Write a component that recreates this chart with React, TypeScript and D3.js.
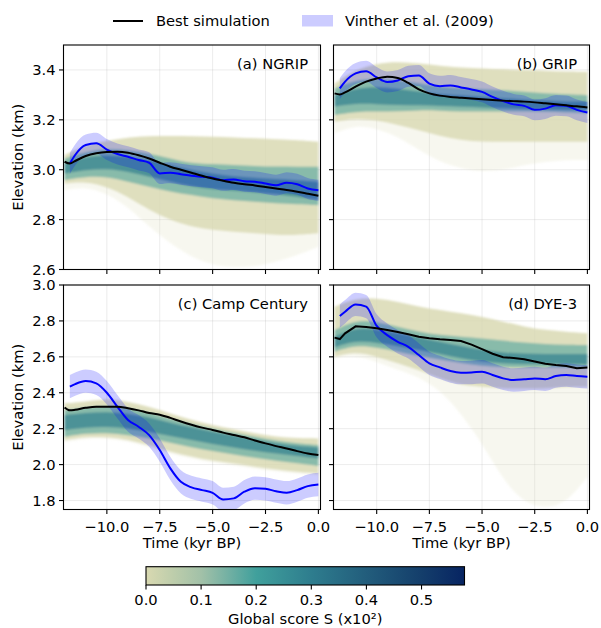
import React from 'react';
import * as d3 from 'd3';

// ---------- time axes (kyr BP) ----------
const T_ENS = [-12, -11, -10, -9, -8, -7, -6, -5, -4, -3, -2, -1, 0];
const T_BEST = [-12, -11.75, -11.5, -11, -10.5, -10, -9.5, -9, -8.5, -8, -7.5, -7, -6.5, -6, -5.5, -5, -4.5, -4, -3.5, -3, -2.5, -2, -1.5, -1, -0.5, 0];
const T_OBS = T_BEST.slice(1);

const X_TICKS = [-10, -7.5, -5, -2.5, 0];
const Y_TICKS_TOP = [2.6, 2.8, 3.0, 3.2, 3.4];
const Y_TICKS_BOTTOM = [1.8, 2.0, 2.2, 2.4, 2.6, 2.8, 3.0];
const CBAR_TICKS = [0, 0.1, 0.2, 0.3, 0.4, 0.5];
const CBAR_MAX = 0.578;

// ---------- (a) NGRIP ----------
const NGRIP_BEST = [3.032, 3.025, 3.035, 3.055, 3.066, 3.071, 3.072, 3.068, 3.058, 3.045, 3.028, 3.012, 3.0, 2.988, 2.976, 2.965, 2.956, 2.948, 2.942, 2.937, 2.931, 2.925, 2.919, 2.912, 2.904, 2.896];
const NGRIP_OBS = [3.025, 3.059, 3.099, 3.106, 3.081, 3.063, 3.052, 3.039, 3.028, 2.985, 2.988, 2.982, 2.976, 2.972, 2.968, 2.958, 2.961, 2.954, 2.952, 2.945, 2.938, 2.948, 2.942, 2.925, 2.918];
const NGRIP_FAINT_LO = [2.918, 2.932, 2.905, 2.851, 2.771, 2.704, 2.65, 2.617, 2.608, 2.611, 2.631, 2.657, 2.691];
const NGRIP_BEIGE_HI = [3.059, 3.099, 3.116, 3.13, 3.135, 3.135, 3.135, 3.132, 3.13, 3.126, 3.122, 3.119, 3.112];
const NGRIP_BEIGE_LO = [2.945, 2.952, 2.932, 2.892, 2.838, 2.798, 2.771, 2.758, 2.751, 2.745, 2.738, 2.738, 2.745];
const NGRIP_TEAL_HI = [3.045, 3.072, 3.085, 3.079, 3.065, 3.045, 3.025, 3.023, 3.019, 3.015, 3.012, 3.012, 3.012];
const NGRIP_TEAL_LO = [2.959, 2.972, 2.972, 2.952, 2.932, 2.912, 2.898, 2.885, 2.878, 2.871, 2.865, 2.862, 2.858];
const NGRIP_DARK_HI = [3.025, 3.052, 3.059, 3.052, 3.039, 3.019, 2.999, 2.985, 2.972, 2.968, 2.962, 2.958, 2.952];
const NGRIP_DARK_LO = [2.985, 2.999, 3.005, 2.992, 2.972, 2.952, 2.932, 2.921, 2.916, 2.909, 2.902, 2.892, 2.878];

// ---------- (b) GRIP ----------
const GRIP_BEST = [3.306, 3.302, 3.31, 3.333, 3.353, 3.366, 3.373, 3.368, 3.348, 3.322, 3.306, 3.297, 3.292, 3.289, 3.286, 3.283, 3.28, 3.277, 3.275, 3.273, 3.27, 3.266, 3.262, 3.258, 3.254, 3.249];
const GRIP_OBS = [3.326, 3.353, 3.386, 3.395, 3.37, 3.352, 3.358, 3.375, 3.378, 3.345, 3.335, 3.338, 3.33, 3.322, 3.312, 3.292, 3.275, 3.262, 3.256, 3.24, 3.245, 3.258, 3.256, 3.24, 3.229];
const GRIP_FAINT_LO = [3.146, 3.179, 3.166, 3.132, 3.079, 3.032, 3.005, 2.992, 2.998, 3.019, 3.032, 3.039, 3.039];
const GRIP_BEIGE_HI = [3.346, 3.4, 3.426, 3.433, 3.426, 3.416, 3.409, 3.406, 3.402, 3.4, 3.397, 3.393, 3.393];
const GRIP_BEIGE_LO = [3.192, 3.206, 3.199, 3.179, 3.159, 3.135, 3.119, 3.112, 3.112, 3.112, 3.112, 3.112, 3.112];
const GRIP_TEAL_HI = [3.326, 3.36, 3.366, 3.36, 3.346, 3.333, 3.326, 3.322, 3.319, 3.313, 3.306, 3.302, 3.299];
const GRIP_TEAL_LO = [3.219, 3.233, 3.233, 3.233, 3.239, 3.237, 3.233, 3.233, 3.233, 3.233, 3.233, 3.229, 3.226];
const GRIP_DARK_HI = [3.299, 3.326, 3.333, 3.326, 3.313, 3.303, 3.299, 3.293, 3.286, 3.282, 3.277, 3.273, 3.273];
const GRIP_DARK_LO = [3.253, 3.266, 3.263, 3.259, 3.259, 3.255, 3.253, 3.25, 3.246, 3.243, 3.242, 3.239, 3.239];

// ---------- (c) Camp Century ----------
const CC_BEST = [2.318, 2.302, 2.305, 2.316, 2.322, 2.322, 2.322, 2.314, 2.302, 2.287, 2.278, 2.26, 2.24, 2.222, 2.206, 2.193, 2.178, 2.165, 2.152, 2.134, 2.118, 2.103, 2.09, 2.075, 2.062, 2.053];
const CC_OBS = [2.434, 2.448, 2.465, 2.452, 2.4, 2.322, 2.248, 2.211, 2.164, 2.081, 1.979, 1.904, 1.873, 1.858, 1.843, 1.806, 1.812, 1.849, 1.869, 1.865, 1.852, 1.843, 1.858, 1.88, 1.889];
const CC_FAINT_LO = [2.125, 2.145, 2.145, 2.13, 2.098, 2.06, 2.033, 2.01, 1.995, 1.977, 1.962, 1.95, 1.94];
const CC_BEIGE_HI = [2.341, 2.35, 2.369, 2.35, 2.322, 2.285, 2.248, 2.22, 2.196, 2.174, 2.155, 2.146, 2.146];
const CC_BEIGE_LO = [2.136, 2.155, 2.155, 2.14, 2.109, 2.071, 2.044, 2.021, 2.007, 1.988, 1.973, 1.96, 1.951];
const CC_TEAL_HI = [2.304, 2.318, 2.331, 2.318, 2.289, 2.257, 2.226, 2.201, 2.177, 2.155, 2.133, 2.118, 2.109];
const CC_TEAL_LO = [2.155, 2.174, 2.177, 2.164, 2.146, 2.122, 2.096, 2.075, 2.057, 2.038, 2.021, 2.007, 1.992];
const CC_DARK_HI = [2.276, 2.289, 2.294, 2.285, 2.263, 2.233, 2.207, 2.183, 2.162, 2.14, 2.118, 2.103, 2.096];
const CC_DARK_LO = [2.192, 2.207, 2.211, 2.201, 2.183, 2.159, 2.137, 2.114, 2.096, 2.077, 2.062, 2.047, 2.034];

// ---------- (d) DYE-3 ----------
const DYE_BEST = [2.707, 2.699, 2.731, 2.77, 2.766, 2.759, 2.749, 2.738, 2.726, 2.712, 2.704, 2.698, 2.694, 2.688, 2.668, 2.643, 2.617, 2.598, 2.593, 2.586, 2.574, 2.561, 2.554, 2.549, 2.537, 2.54];
const DYE_OBS = [2.827, 2.851, 2.892, 2.88, 2.772, 2.721, 2.684, 2.656, 2.61, 2.564, 2.541, 2.521, 2.512, 2.513, 2.517, 2.499, 2.48, 2.471, 2.475, 2.48, 2.475, 2.493, 2.499, 2.493, 2.489];
const DYE_FAINT_LO = [2.591, 2.61, 2.573, 2.526, 2.489, 2.415, 2.285, 2.118, 1.914, 1.784, 1.756, 1.784, 1.932];
const DYE_BEIGE_HI = [2.879, 2.926, 2.926, 2.907, 2.879, 2.861, 2.842, 2.824, 2.796, 2.768, 2.749, 2.74, 2.731];
const DYE_BEIGE_LO = [2.601, 2.629, 2.601, 2.564, 2.526, 2.48, 2.443, 2.434, 2.424, 2.424, 2.424, 2.434, 2.434];
const DYE_TEAL_HI = [2.749, 2.805, 2.796, 2.768, 2.74, 2.721, 2.712, 2.703, 2.69, 2.679, 2.671, 2.666, 2.666];
const DYE_TEAL_LO = [2.629, 2.666, 2.653, 2.629, 2.604, 2.586, 2.564, 2.549, 2.541, 2.541, 2.541, 2.541, 2.541];
const DYE_DARK_HI = [2.712, 2.764, 2.753, 2.731, 2.708, 2.684, 2.66, 2.638, 2.623, 2.619, 2.616, 2.616, 2.616];
const DYE_DARK_LO = [2.653, 2.69, 2.679, 2.66, 2.638, 2.616, 2.591, 2.573, 2.564, 2.56, 2.56, 2.558, 2.558];

// Vinther et al. (2009) uncertainty half-widths (km)
const OBS_ERR = [0.042, 0.042, 0.065, 0.065];

// colormap stops (score -> colour)
const CMAP_POS = [0, 0.05, 0.1, 0.15, 0.2, 0.3, 0.4, 0.5, 0.578];
const CMAP_COL = ['#d9d9b1', '#bdcdab', '#a2c1a8', '#72b0a3', '#40a09c', '#2e7d8e', '#225d7c', '#143e6b', '#072462'];
const cmap = d3.scaleLinear<string>().domain(CMAP_POS).range(CMAP_COL).interpolate(d3.interpolateRgb);

const FONT = 'DejaVu Sans, Verdana, sans-serif';
const FS = 14.7;
const SPINE_W = 1.1;
const TICK_L = 4.5;
const LINE_W = 2;

type Panel = {
  id: string; label: string; x0: number; x1: number; y0: number; y1: number;
  yDomain: [number, number]; yTicks: number[]; showYLabels: boolean; showXLabels: boolean;
  best: number[]; obs: number[]; err: number;
  faintLo: number[]; beigeHi: number[]; beigeLo: number[]; tealHi: number[]; tealLo: number[]; darkHi: number[]; darkLo: number[];
  bestCurve: d3.CurveFactory;
};

const PANELS: Panel[] = [
  { id: 'a', label: '(a) NGRIP', x0: 63.5, x1: 320.5, y0: 45, y1: 269.5, yDomain: [2.6, 3.5], yTicks: Y_TICKS_TOP, showYLabels: true, showXLabels: false,
    best: NGRIP_BEST, obs: NGRIP_OBS, err: OBS_ERR[0], faintLo: NGRIP_FAINT_LO, beigeHi: NGRIP_BEIGE_HI, beigeLo: NGRIP_BEIGE_LO,
    tealHi: NGRIP_TEAL_HI, tealLo: NGRIP_TEAL_LO, darkHi: NGRIP_DARK_HI, darkLo: NGRIP_DARK_LO, bestCurve: d3.curveMonotoneX },
  { id: 'b', label: '(b) GRIP', x0: 333.5, x1: 589.5, y0: 45, y1: 269.5, yDomain: [2.6, 3.5], yTicks: Y_TICKS_TOP, showYLabels: false, showXLabels: false,
    best: GRIP_BEST, obs: GRIP_OBS, err: OBS_ERR[1], faintLo: GRIP_FAINT_LO, beigeHi: GRIP_BEIGE_HI, beigeLo: GRIP_BEIGE_LO,
    tealHi: GRIP_TEAL_HI, tealLo: GRIP_TEAL_LO, darkHi: GRIP_DARK_HI, darkLo: GRIP_DARK_LO, bestCurve: d3.curveMonotoneX },
  { id: 'c', label: '(c) Camp Century', x0: 63.5, x1: 320.5, y0: 285, y1: 509.5, yDomain: [1.75, 3.0], yTicks: Y_TICKS_BOTTOM, showYLabels: true, showXLabels: true,
    best: CC_BEST, obs: CC_OBS, err: OBS_ERR[2], faintLo: CC_FAINT_LO, beigeHi: CC_BEIGE_HI, beigeLo: CC_BEIGE_LO,
    tealHi: CC_TEAL_HI, tealLo: CC_TEAL_LO, darkHi: CC_DARK_HI, darkLo: CC_DARK_LO, bestCurve: d3.curveMonotoneX },
  { id: 'd', label: '(d) DYE-3', x0: 333.5, x1: 589.5, y0: 285, y1: 509.5, yDomain: [1.75, 3.0], yTicks: Y_TICKS_BOTTOM, showYLabels: false, showXLabels: true,
    best: DYE_BEST, obs: DYE_OBS, err: OBS_ERR[3], faintLo: DYE_FAINT_LO, beigeHi: DYE_BEIGE_HI, beigeLo: DYE_BEIGE_LO,
    tealHi: DYE_TEAL_HI, tealLo: DYE_TEAL_LO, darkHi: DYE_DARK_HI, darkLo: DYE_DARK_LO, bestCurve: d3.curveLinear },
];

const fmtX = (v: number) => d3.format('.1f')(v).replace('-', '\u2212');
const fmtY = (v: number) => d3.format('.1f')(v);

function PanelView({ p }: { p: Panel }) {
  const x = d3.scaleLinear().domain([-12.05, 0.1]).range([p.x0, p.x1]);
  const y = d3.scaleLinear().domain(p.yDomain).range([p.y1, p.y0]);
  const band = (T: number[], lo: number[], hi: number[], curve: d3.CurveFactory) =>
    d3.area<number>().x((t) => x(t)).y0((_, i) => y(lo[i])).y1((_, i) => y(hi[i])).curve(curve)(T) || '';
  const line = (T: number[], v: number[], curve: d3.CurveFactory) =>
    d3.line<number>().x((t) => x(t)).y((_, i) => y(v[i])).curve(curve)(T) || '';
  const obsLo = p.obs.map((v) => v - p.err);
  const obsHi = p.obs.map((v) => v + p.err);
  const clipId = `clip-${p.id}`;
  return (
    <g>
      <defs>
        <clipPath id={clipId}>
          <rect x={p.x0} y={p.y0} width={p.x1 - p.x0} height={p.y1 - p.y0} />
        </clipPath>
      </defs>
      {/* grid */}
      <g stroke="#b0b0b0" strokeOpacity={0.3} strokeWidth={0.8}>
        {X_TICKS.map((t) => <line key={'gx' + t} x1={x(t)} x2={x(t)} y1={p.y0} y2={p.y1} />)}
        {p.yTicks.map((v) => <line key={'gy' + v} x1={p.x0} x2={p.x1} y1={y(v)} y2={y(v)} />)}
      </g>
      <g clipPath={`url(#${clipId})`}>
        <g filter="url(#soft)">
          <path d={band(T_ENS, p.faintLo, p.beigeHi, d3.curveBasis)} fill={cmap(0)} fillOpacity={0.2} />
          <path d={band(T_ENS, p.beigeLo, p.beigeHi, d3.curveBasis)} fill={cmap(0)} fillOpacity={0.8} />
          <path d={band(T_ENS, p.tealLo, p.tealHi, d3.curveBasis)} fill={cmap(0.17)} fillOpacity={0.68} />
          <path d={band(T_ENS, p.darkLo, p.darkHi, d3.curveBasis)} fill={cmap(0.3)} fillOpacity={0.65} />
        </g>
        <path d={band(T_OBS, obsLo, obsHi, d3.curveMonotoneX)} fill="#0000ff" fillOpacity={0.2} />
        <path d={line(T_OBS, p.obs, d3.curveMonotoneX)} fill="none" stroke="#0000ff" strokeWidth={LINE_W} />
        <path d={line(T_BEST, p.best, p.bestCurve)} fill="none" stroke="#000" strokeWidth={LINE_W} />
      </g>
      {/* spines */}
      <rect x={p.x0} y={p.y0} width={p.x1 - p.x0} height={p.y1 - p.y0} fill="none" stroke="#000" strokeWidth={SPINE_W} />
      {/* x ticks */}
      {X_TICKS.map((t) => (
        <g key={'xt' + t}>
          <line x1={x(t)} x2={x(t)} y1={p.y1} y2={p.y1 + TICK_L} stroke="#000" strokeWidth={SPINE_W} />
          {p.showXLabels && (
            <text x={x(t)} y={p.y1 + 22.5} textAnchor="middle" fontFamily={FONT} fontSize={FS} fill="#000">{fmtX(t)}</text>
          )}
        </g>
      ))}
      {/* y ticks */}
      {p.yTicks.map((v) => (
        <g key={'yt' + v}>
          <line x1={p.x0 - TICK_L} x2={p.x0} y1={y(v)} y2={y(v)} stroke="#000" strokeWidth={SPINE_W} />
          {p.showYLabels && (
            <text x={p.x0 - 8} y={y(v)} dy="0.36em" textAnchor="end" fontFamily={FONT} fontSize={FS} fill="#000">{fmtY(v)}</text>
          )}
        </g>
      ))}
      <text x={p.x1 - 12.5} y={p.y0 + 24} textAnchor="end" fontFamily={FONT} fontSize={FS} fill="#000">{p.label}</text>
      {p.showYLabels && (
        <text transform={`translate(23,${(p.y0 + p.y1) / 2}) rotate(-90)`} textAnchor="middle" fontFamily={FONT} fontSize={FS} fill="#000">Elevation (km)</text>
      )}
      {p.showXLabels && (
        <text x={(p.x0 + p.x1) / 2} y={547.5} textAnchor="middle" fontFamily={FONT} fontSize={FS} fill="#000">Time (kyr BP)</text>
      )}
    </g>
  );
}

function Colorbar() {
  const cx0 = 146, cx1 = 464.5, cy0 = 566.7, cy1 = 585;
  const cs = d3.scaleLinear().domain([0, CBAR_MAX]).range([cx0, cx1]);
  return (
    <g>
      <defs>
        <linearGradient id="cbar" x1="0" x2="1" y1="0" y2="0">
          {CMAP_POS.map((p, i) => (
            <stop key={i} offset={`${(p / CBAR_MAX) * 100}%`} stopColor={CMAP_COL[i]} />
          ))}
        </linearGradient>
      </defs>
      <rect x={cx0} y={cy0} width={cx1 - cx0} height={cy1 - cy0} fill="url(#cbar)" stroke="#000" strokeWidth={SPINE_W} />
      {CBAR_TICKS.map((t) => (
        <g key={t}>
          <line x1={cs(t)} x2={cs(t)} y1={cy1} y2={cy1 + TICK_L} stroke="#000" strokeWidth={SPINE_W} />
          <text x={cs(t)} y={605} textAnchor="middle" fontFamily={FONT} fontSize={FS} fill="#000">{d3.format('.1f')(t)}</text>
        </g>
      ))}
      <text x={(cx0 + cx1) / 2} y={623.5} textAnchor="middle" fontFamily={FONT} fontSize={FS} fill="#000">Global score S (x10²)</text>
    </g>
  );
}

function Legend() {
  return (
    <g fontFamily={FONT} fontSize={FS} fill="#000">
      <line x1={113} x2={143} y1={21} y2={21} stroke="#000" strokeWidth={LINE_W} />
      <text x={156} y={26}>Best simulation</text>
      <rect x={302} y={15} width={31} height={11.5} fill="#0000ff" fillOpacity={0.2} />
      <text x={345} y={26}>Vinther et al. (2009)</text>
    </g>
  );
}

export default function App() {
  return (
    <svg width={601} height={628} style={{ position: 'absolute', left: 0, top: 0, background: '#fff' }}>
      <defs>
        <filter id="soft" x="-5%" y="-5%" width="110%" height="110%">
          <feGaussianBlur stdDeviation={1.3} />
        </filter>
      </defs>
      <rect x={0} y={0} width={601} height={628} fill="#fff" />
      <Legend />
      {PANELS.map((p) => <PanelView key={p.id} p={p} />)}
      <Colorbar />
    </svg>
  );
}
